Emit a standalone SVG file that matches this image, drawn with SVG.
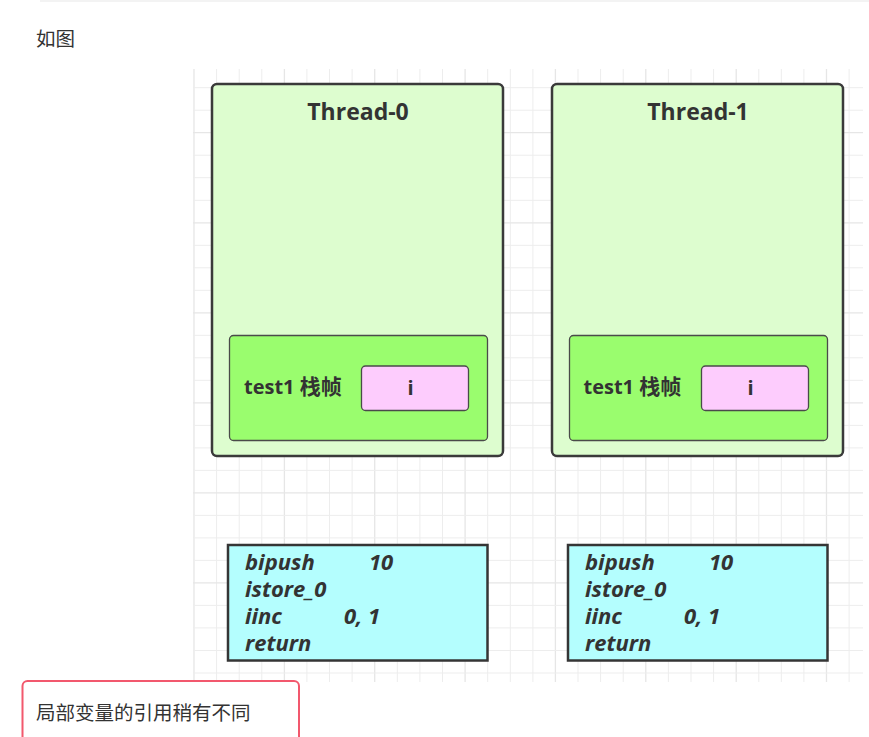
<svg xmlns="http://www.w3.org/2000/svg" width="869" height="737" viewBox="0 0 869 737">
<style>
.grid{stroke:#ededed;stroke-width:1;fill:none}
.gridb{stroke:#e6e6e6;stroke-width:1.3;fill:none}
.thread{fill:#ddfdcf;stroke:#3a3a3a;stroke-width:2.5}
.frame{fill:#9afd6e;stroke:#4a4a4a;stroke-width:1.3}
.var{fill:#fdccfd;stroke:#4a4a4a;stroke-width:1.3}
.code{fill:#b4fefe;stroke:#353535;stroke-width:2.5}
.title{font-family:"Open Sans","DejaVu Sans",sans-serif;font-weight:bold;font-size:23px;fill:#333;text-anchor:middle}
.lbl{font-family:"Open Sans","Noto Sans CJK SC",sans-serif;font-weight:bold;font-size:20px;fill:#333}
.cd{font-family:"Open Sans","DejaVu Sans",sans-serif;font-weight:bold;font-style:italic;font-size:22px;fill:#333}
.body{font-family:"Noto Sans CJK SC","Noto Sans",sans-serif;font-size:19.5px;fill:#333}
</style>
<rect x="0" y="0" width="869" height="737" fill="#ffffff"/>
<line x1="40" y1="1" x2="869" y2="1" stroke="#efefef" stroke-width="1.5"/>
<g id="grid">
<path class="grid" d="M216.6 69V682M239.2 69V682M261.8 69V682M306.9 69V682M329.5 69V682M352.1 69V682M397.3 69V682M419.9 69V682M442.5 69V682M487.7 69V682M510.3 69V682M532.9 69V682M578 69V682M600.6 69V682M623.2 69V682M668.4 69V682M691 69V682M713.6 69V682M758.8 69V682M781.3 69V682M803.9 69V682M849.1 69V682"/>
<path class="gridb" d="M194 69V682M284.4 69V682M374.7 69V682M465.1 69V682M555.4 69V682M645.8 69V682M736.2 69V682M826.5 69V682"/>
<path class="grid" d="M193 87.7H863M193 110.2H863M193 155.2H863M193 177.7H863M193 200.3H863M193 245.3H863M193 267.8H863M193 290.3H863M193 335.3H863M193 357.8H863M193 380.3H863M193 425.4H863M193 447.9H863M193 470.4H863M193 515.4H863M193 537.9H863M193 560.4H863M193 605.4H863M193 627.9H863M193 650.5H863M193 673H863"/>
<path class="gridb" d="M193 132.7H863M193 222.8H863M193 312.8H863M193 402.8H863M193 492.9H863M193 582.9H863"/>
</g>
<text class="body" x="36" y="46">如图</text>
<g id="thread0">
<rect class="thread" x="212" y="84" width="291" height="372" rx="5"/>
<text class="title" x="358" y="120">Thread-0</text>
</g>
<g id="thread1">
<rect class="thread" x="552" y="84" width="291" height="372" rx="5"/>
<text class="title" x="698" y="120">Thread-1</text>
</g>
<g id="frame0">
<rect class="frame" x="229.5" y="335.5" width="258" height="105" rx="4"/>
<text class="lbl" x="244" y="394">test1 <tspan style="font-size:21px">栈帧</tspan></text>
</g>
<g id="frame1">
<rect class="frame" x="569.5" y="335.5" width="258" height="105" rx="4"/>
<text class="lbl" x="583.5" y="394">test1 <tspan style="font-size:21px">栈帧</tspan></text>
</g>
<g id="var0">
<rect class="var" x="361.5" y="366" width="107" height="44.5" rx="4"/>
<text class="title" x="410.5" y="395" style="font-size:20px">i</text>
</g>
<g id="var1">
<rect class="var" x="701.5" y="366" width="107" height="44.5" rx="4"/>
<text class="title" x="750.5" y="395" style="font-size:20px">i</text>
</g>
<g id="code0">
<rect class="code" x="228" y="545" width="259.5" height="115.5"/>
<text class="cd"><tspan x="245" y="570">bipush</tspan><tspan x="369" y="570">10</tspan><tspan x="245" y="597">istore_0</tspan><tspan x="245" y="624">iinc</tspan><tspan x="344" y="624">0, 1</tspan><tspan x="245" y="651">return</tspan></text>
</g>
<g id="code1">
<rect class="code" x="568" y="545" width="259.5" height="115.5"/>
<text class="cd"><tspan x="585" y="570">bipush</tspan><tspan x="709" y="570">10</tspan><tspan x="585" y="597">istore_0</tspan><tspan x="585" y="624">iinc</tspan><tspan x="684" y="624">0, 1</tspan><tspan x="585" y="651">return</tspan></text>
</g>
<g id="connectors"></g>
<g id="note">
<rect x="22.5" y="681" width="276.5" height="70" rx="5" fill="#ffffff" stroke="#f2586d" stroke-width="2"/>
<text class="body" x="36" y="719.5">局部变量的引用稍有不同</text>
</g>
</svg>
